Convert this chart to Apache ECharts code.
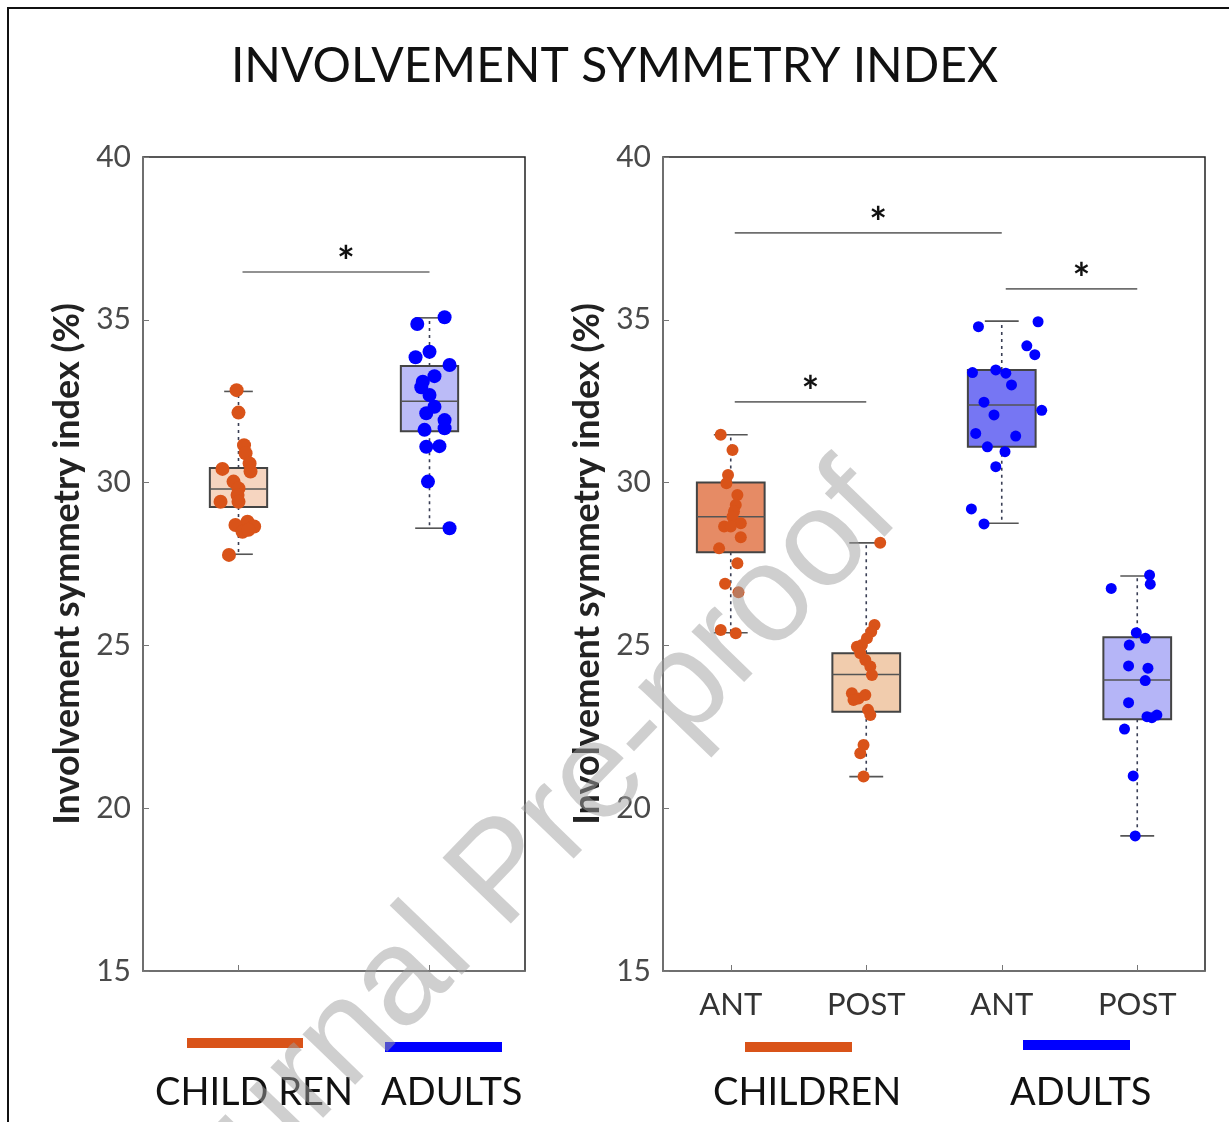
<!DOCTYPE html>
<html><head><meta charset="utf-8">
<script src="https://cdn.jsdelivr.net/npm/echarts@6/dist/echarts.min.js"></script>
<style>html,body{margin:0;padding:0;background:#fff}#c{width:1229px;height:1122px}</style>
</head><body><div id="c"></div>
<script>
// ---------- text ----------
const titleText = 'INVOLVEMENT SYMMETRY INDEX';
const yAxisName = 'Involvement symmetry index (%)';
const leftCategories = ['', ''];
const rightCategories = ['ANT', 'POST', 'ANT', 'POST'];
const leftLegendLabels = ['CHILD REN', 'ADULTS'];
const rightLegendLabels = ['CHILDREN', 'ADULTS'];
const yMin = 15, yMax = 40, yInterval = 5;

// ---------- box statistics [min, Q1, median, Q3, max] ----------
const leftBoxChildren = [27.8, 29.25, 29.8, 30.45, 32.8];
const leftBoxAdults = [28.6, 31.58, 32.5, 33.58, 35.06];
const rightBoxChildrenAnt = [25.39, 27.86, 28.95, 30.0, 31.47];
const rightBoxChildrenPost = [20.97, 22.96, 24.11, 24.76, 28.15];
const rightBoxAdultsAnt = [28.75, 31.10, 32.38, 33.46, 34.96];
const rightBoxAdultsPost = [19.15, 22.73, 23.94, 25.25, 27.13];

// ---------- individual points (value) and horizontal jitter (category units) ----------
const leftChildrenValues = [32.84, 32.15, 31.15, 30.90, 30.59, 30.42, 30.34, 30.03, 29.82, 29.62, 29.41, 29.41, 28.80, 28.70, 28.65, 28.49, 28.55, 27.78];
const leftChildrenJitter = [-0.010, 0, 0.029, 0.037, 0.058, -0.084, 0.063, -0.026, 0, -0.005, -0.094, 0, 0.047, -0.016, 0.082, 0.021, 0.052, -0.050];
const leftAdultsValues = [34.87, 35.08, 33.85, 34.02, 33.61, 33.27, 33.10, 32.93, 32.69, 32.33, 32.13, 31.92, 31.67, 31.62, 31.10, 31.12, 30.03, 28.60];
const leftAdultsJitter = [-0.064, 0.079, -0.073, 0, 0.105, 0.026, -0.035, -0.043, 0, 0.026, -0.017, 0.079, 0.079, -0.026, -0.017, 0.052, -0.008, 0.105];

const childrenAntValues = [31.47, 31.0, 30.23, 29.98, 29.62, 29.31, 29.11, 28.95, 28.75, 28.65, 28.65, 28.32, 27.98, 27.52, 26.89, 26.63, 25.47, 25.37];
const childrenAntJitter = [-0.074, 0.013, -0.020, -0.032, 0.049, 0.037, 0.024, 0.013, 0.074, -0.049, 0, 0.074, -0.086, 0.049, -0.042, 0.057, -0.074, 0.037];
const childrenPostValues = [28.15, 25.63, 25.42, 25.22, 25.01, 24.96, 24.76, 24.55, 24.35, 24.09, 23.53, 23.37, 23.48, 23.32, 23.02, 22.86, 21.94, 21.69, 20.97];
const childrenPostJitter = [0.103, 0.061, 0.037, 0.005, -0.032, -0.069, -0.044, -0.007, 0.030, 0.042, -0.106, -0.057, -0.007, -0.094, 0.013, 0.030, -0.020, -0.044, -0.020];
const adultsAntValues = [34.79, 34.94, 34.20, 33.93, 33.38, 33.46, 33.36, 33.0, 32.47, 32.22, 32.08, 31.51, 31.43, 31.10, 30.95, 30.49, 29.19, 28.73];
const adultsAntJitter = [-0.172, 0.268, 0.185, 0.244, -0.216, -0.044, 0.030, 0.072, -0.131, 0.295, -0.057, -0.192, 0.103, -0.106, 0.024, -0.044, -0.224, -0.131];
const adultsPostValues = [27.16, 26.88, 26.75, 25.39, 25.22, 25.01, 24.37, 24.30, 23.92, 23.24, 22.81, 22.78, 22.86, 22.43, 20.99, 19.15];
const adultsPostJitter = [0.091, 0.096, -0.192, -0.007, 0.059, -0.059, -0.064, 0.079, 0.059, -0.064, 0.072, 0.108, 0.145, -0.094, -0.030, -0.015];

// ---------- significance brackets [fromCategory, toCategory, yValue] ----------
const leftSignificance = [[0, 1, 36.47]];
const rightSignificance = [[0, 2, 37.67], [2, 3, 35.95], [0, 1, 32.48]];

// ---------- colours ----------
const orange = '#d95319';
const blue = '#0000ff';
const leftBoxFills = ['rgba(238,178,140,0.55)', 'rgba(120,120,240,0.5)'];
const rightBoxFills = ['rgba(224,110,62,0.8)', 'rgba(232,170,118,0.6)', 'rgba(80,80,240,0.78)', 'rgba(120,120,240,0.55)'];

const chart = echarts.init(document.getElementById('c'), null, {renderer: 'canvas'});

function boxRenderer(boxFrac, fills) {
  return function (params, api) {
    const i = api.value(0);
    const pMin = api.coord([i, api.value(1)]);
    const pQ1 = api.coord([i, api.value(2)]);
    const pMd = api.coord([i, api.value(3)]);
    const pQ3 = api.coord([i, api.value(4)]);
    const pMax = api.coord([i, api.value(5)]);
    const band = api.size([1, 0])[0];
    const bw = band * boxFrac;
    const cw = bw / 2;
    const cx = pMd[0];
    const dash = {stroke: '#3a3f55', lineWidth: 1.6, lineDash: [3, 4]};
    return {
      type: 'group',
      children: [
        {type: 'line', shape: {x1: cx, y1: pQ3[1], x2: cx, y2: pMax[1]}, style: dash},
        {type: 'line', shape: {x1: cx, y1: pQ1[1], x2: cx, y2: pMin[1]}, style: dash},
        {type: 'line', shape: {x1: cx - cw / 2, y1: pMax[1], x2: cx + cw / 2, y2: pMax[1]}, style: {stroke: '#555', lineWidth: 1.6}},
        {type: 'line', shape: {x1: cx - cw / 2, y1: pMin[1], x2: cx + cw / 2, y2: pMin[1]}, style: {stroke: '#555', lineWidth: 1.6}},
        {type: 'rect', shape: {x: cx - bw / 2, y: pQ3[1], width: bw, height: pQ1[1] - pQ3[1]}, style: {fill: fills[params.dataIndex], stroke: '#444', lineWidth: 2}},
        {type: 'line', shape: {x1: cx - bw / 2, y1: pMd[1], x2: cx + bw / 2, y2: pMd[1]}, style: {stroke: '#555', lineWidth: 1.5}}
      ]
    };
  };
}

function sigRenderer(params, api) {
  const a = api.coord([api.value(0), api.value(2)]);
  const b = api.coord([api.value(1), api.value(2)]);
  return {
    type: 'group',
    children: [
      {type: 'line', shape: {x1: a[0] + 4, y1: a[1], x2: b[0], y2: b[1]}, style: {stroke: '#6e6e6e', lineWidth: 1.6}},
      {type: 'text', style: {text: '*', x: (a[0] + b[0]) / 2 + 12, y: a[1] - 8, fill: '#111', font: 'bold 42px Lato', textAlign: 'center', textVerticalAlign: 'middle'}}
    ]
  };
}

function boxData(boxes) { return boxes.map((b, i) => [i].concat(b)); }
function pointData(cat, values, jitter) { return values.map((v, k) => [cat + jitter[k], v]); }
function sigData(list) { return list.map(s => s.slice()); }

const yAxisCommon = {
  type: 'value', min: yMin, max: yMax, interval: yInterval,
  name: yAxisName, nameLocation: 'middle', nameRotate: 90, nameGap: 58,
  nameTextStyle: {fontFamily: 'Lato', fontWeight: 'bold', fontSize: 36, color: '#222'},
  axisLine: {show: true, onZero: false, lineStyle: {color: '#777', width: 1.5}},
  axisTick: {show: true, inside: true, length: 6, lineStyle: {color: '#777'}},
  axisLabel: {fontFamily: 'Lato', fontSize: 30, color: '#4a4a4a', margin: 12},
  splitLine: {show: false}
};

const gridCommon = {top: 157, height: 814, show: true, borderColor: '#222', borderWidth: 1.5, backgroundColor: 'transparent', containLabel: false};

const option = {
  backgroundColor: '#fff',
  animation: false,
  title: {text: titleText, left: 'center', top: 38, textStyle: {fontFamily: 'Lato', fontWeight: 'normal', fontSize: 48, color: '#111'}},
  grid: [
    Object.assign({left: 143, width: 382}, gridCommon),
    Object.assign({left: 663, width: 542}, gridCommon)
  ],
  xAxis: [
    {type: 'category', gridIndex: 0, data: leftCategories, axisLine: {onZero: false, lineStyle: {color: '#777', width: 1.5}},
      axisTick: {show: true, inside: true, alignWithLabel: true, length: 6, lineStyle: {color: '#777'}}, axisLabel: {show: false}},
    {type: 'value', gridIndex: 0, min: -0.5, max: leftCategories.length - 0.5, show: false},
    {type: 'category', gridIndex: 1, data: rightCategories, axisLine: {onZero: false, lineStyle: {color: '#777', width: 1.5}},
      axisTick: {show: true, inside: true, alignWithLabel: true, length: 6, lineStyle: {color: '#777'}},
      axisLabel: {fontFamily: 'Lato', fontSize: 31, color: '#333', margin: 18}},
    {type: 'value', gridIndex: 1, min: -0.5, max: rightCategories.length - 0.5, show: false}
  ],
  yAxis: [
    Object.assign({gridIndex: 0}, yAxisCommon),
    Object.assign({gridIndex: 1}, yAxisCommon)
  ],
  series: [
    {type: 'custom', xAxisIndex: 0, yAxisIndex: 0, renderItem: boxRenderer(0.30, leftBoxFills),
      encode: {x: 0, y: [1, 2, 3, 4, 5]}, data: boxData([leftBoxChildren, leftBoxAdults]), z: 2},
    {type: 'custom', xAxisIndex: 2, yAxisIndex: 1, renderItem: boxRenderer(0.50, rightBoxFills),
      encode: {x: 0, y: [1, 2, 3, 4, 5]}, data: boxData([rightBoxChildrenAnt, rightBoxChildrenPost, rightBoxAdultsAnt, rightBoxAdultsPost]), z: 2},
    {type: 'scatter', xAxisIndex: 1, yAxisIndex: 0, symbolSize: 14, itemStyle: {color: orange, opacity: 1}, z: 3,
      data: pointData(0, leftChildrenValues, leftChildrenJitter)},
    {type: 'scatter', xAxisIndex: 1, yAxisIndex: 0, symbolSize: 14, itemStyle: {color: blue, opacity: 1}, z: 3,
      data: pointData(1, leftAdultsValues, leftAdultsJitter)},
    {type: 'scatter', xAxisIndex: 3, yAxisIndex: 1, symbolSize: 12, itemStyle: {color: orange, opacity: 1}, z: 3,
      data: pointData(0, childrenAntValues, childrenAntJitter).concat(pointData(1, childrenPostValues, childrenPostJitter))},
    {type: 'scatter', xAxisIndex: 3, yAxisIndex: 1, symbolSize: 11, itemStyle: {color: blue, opacity: 1}, z: 3,
      data: pointData(2, adultsAntValues, adultsAntJitter).concat(pointData(3, adultsPostValues, adultsPostJitter))},
    {type: 'custom', xAxisIndex: 1, yAxisIndex: 0, renderItem: sigRenderer, encode: {x: [0, 1], y: 2}, data: sigData(leftSignificance), z: 4},
    {type: 'custom', xAxisIndex: 3, yAxisIndex: 1, renderItem: sigRenderer, encode: {x: [0, 1], y: 2}, data: sigData(rightSignificance), z: 4}
  ],
  graphic: [
    {type: 'polyline', shape: {points: [[8, 1122], [8, 8], [1229, 8]]}, style: {stroke: '#111', lineWidth: 2, fill: null}, z: 10},
    {type: 'rect', shape: {x: 187, y: 1038, width: 116, height: 10}, style: {fill: orange}},
    {type: 'rect', shape: {x: 385, y: 1042, width: 117, height: 10}, style: {fill: blue}},
    {type: 'rect', shape: {x: 745, y: 1042, width: 107, height: 10}, style: {fill: orange}},
    {type: 'rect', shape: {x: 1023, y: 1040, width: 107, height: 10}, style: {fill: blue}},
    {type: 'text', x: 155, y: 1093, style: {text: leftLegendLabels[0], font: '38px Lato', fill: '#111', textVerticalAlign: 'middle'}},
    {type: 'text', x: 381, y: 1093, style: {text: leftLegendLabels[1], font: '38px Lato', fill: '#111', textVerticalAlign: 'middle'}},
    {type: 'text', x: 713, y: 1093, style: {text: rightLegendLabels[0], font: '38px Lato', fill: '#111', textVerticalAlign: 'middle'}},
    {type: 'text', x: 1010, y: 1093, style: {text: rightLegendLabels[1], font: '38px Lato', fill: '#111', textVerticalAlign: 'middle'}},
    {type: 'text', x: 505, y: 875, rotation: 46 * Math.PI / 180, z: 20,
      style: {text: 'Journal Pre-proof', font: '138px "Liberation Sans"', fill: 'rgba(160,160,160,0.5)', textAlign: 'center', textVerticalAlign: 'middle'}}
  ]
};
chart.setOption(option);
</script>
</body></html>
